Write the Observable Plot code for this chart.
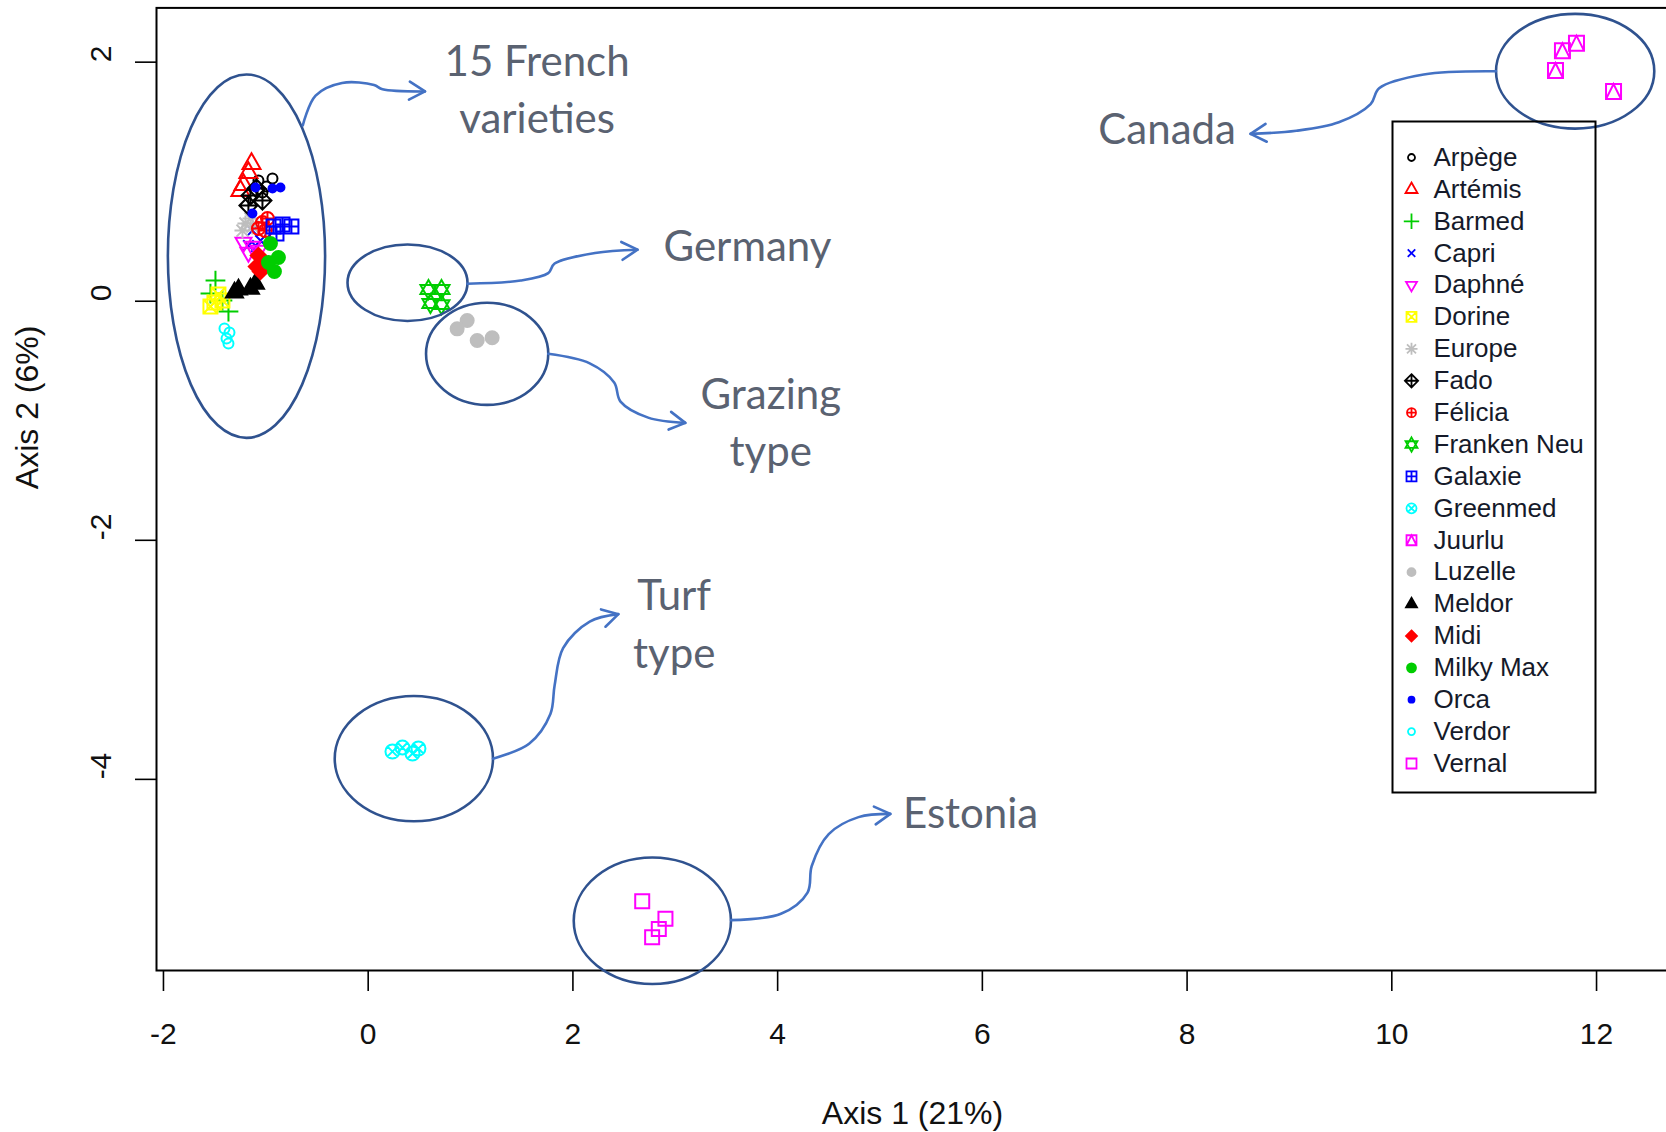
<!DOCTYPE html>
<html><head><meta charset="utf-8">
<script src="https://cdn.jsdelivr.net/npm/d3@7"></script>
<script src="https://cdn.jsdelivr.net/npm/@observablehq/plot@0.6"></script>
<style>
html,body{margin:0;padding:0;background:#fff;overflow:hidden;}
#wrap{position:relative;width:1666px;height:1132px;overflow:hidden;background:#fff;}
#main{position:absolute;left:0;top:0;width:1680px;}
#legend{position:absolute;left:1391px;top:120px;}
#main svg, #legend svg{max-width:none !important;}
</style></head>
<body><div id="wrap"><div id="main"></div><div id="legend"></div></div>
<script>
// ---------- DATA ----------
const varieties = ["Arpège","Artémis","Barmed","Capri","Daphné","Dorine","Europe","Fado","Félicia","Franken Neu","Galaxie","Greenmed","Juurlu","Luzelle","Meldor","Midi","Milky Max","Orca","Verdor","Vernal"];
const colors = ["#000000","#FF0000","#00CD00","#0000FF","#FF00FF","#FFFF00","#BEBEBE","#000000","#FF0000","#00CD00","#0000FF","#00FFFF","#FF00FF","#BEBEBE","#000000","#FF0000","#00CD00","#0000FF","#00FFFF","#FF00FF"];
const pchCodes = [1,2,3,4,6,7,8,9,10,11,12,13,14,16,17,18,19,20,1,0];

// four replicates per variety (Axis 1, Axis 2)
const pointVariety = varieties.flatMap(v => [v, v, v, v]);
const axis1 = [
  -0.935,-0.994,-1.072,-1.033,   // Arpège
  -1.140,-1.170,-1.218,-1.248,   // Artémis
  -1.492,-1.365,-1.541,-1.424,   // Barmed
  -1.131,-1.052,-1.170,-1.091,   // Capri
  -1.218,-1.131,-1.072,-1.170,   // Daphné
  -1.541,-1.463,-1.424,-1.502,   // Dorine
  -1.199,-1.150,-1.228,-1.131,   // Europe
  -1.150,-1.091,-1.033,-1.170,   // Fado
  -1.033,-1.004,-1.072,-0.984,   // Félicia
   0.589, 0.716, 0.608, 0.716,   // Franken Neu
  -0.925,-0.837,-0.750,-0.896,   // Galaxie
   0.237, 0.335, 0.433, 0.491,   // Greenmed
  11.804,11.667,11.599,12.166,   // Juurlu
   0.967, 0.869, 1.065, 1.211,   // Luzelle
  -1.306,-1.101,-1.150,-1.267,   // Meldor
  -1.072,-1.033,-1.052,-1.091,   // Midi
  -0.955,-0.877,-0.916,-0.974,   // Milky Max
  -1.101,-0.935,-0.857,-1.131,   // Orca
  -1.404,-1.355,-1.384,-1.365,   // Verdor
   2.677, 2.904, 2.839, 2.774    // Vernal
];
const axis2 = [
   1.027, 0.960, 1.010, 0.909,
   1.152, 1.077, 0.976, 0.926,
   0.173,-0.086, 0.064, 0.006,
   0.591, 0.508, 0.466, 0.457,
   0.491, 0.458, 0.424, 0.407,
  -0.044, 0.056, 0.006,-0.011,
   0.650, 0.692, 0.591, 0.625,
   0.884, 0.943, 0.842, 0.801,
   0.658, 0.591, 0.608, 0.692,
   0.098, 0.098,-0.019,-0.028,
   0.625, 0.642, 0.625, 0.566,
  -3.767,-3.734,-3.784,-3.742,
   2.159, 2.095, 1.930, 1.754,
  -0.161,-0.231,-0.329,-0.306,
   0.073, 0.148, 0.106, 0.098,
   0.382, 0.324, 0.249, 0.290,
   0.483, 0.366, 0.249, 0.324,
   0.951, 0.943, 0.951, 0.734,
  -0.229,-0.262,-0.312,-0.354,
  -5.020,-5.167,-5.251,-5.321
];

const xTicks = [-2, 0, 2, 4, 6, 8, 10, 12];
const yTicks = [-4, -2, 0, 2];
const xTitle = "Axis 1 (21%)";
const yTitle = "Axis 2 (6%)";

// annotation callouts (data units)
const groupLabels = ["15 French\nvarieties", "Germany", "Grazing\ntype", "Turf\ntype", "Estonia", "Canada"];
const labelAxis1 = [1.650, 3.705, 3.933, 2.989, 5.885, 7.805];
const labelAxis2 = [1.760, 0.453, -1.022, -2.711, -4.293, 1.431];
const ellipseAxis1 = [-1.184, 0.389, 1.167, 0.451, 2.781, 11.796];
const ellipseAxis2 = [0.373, 0.151, -0.444, -3.831, -5.187, 1.920];
const ellipseHalfW = [0.768, 0.586, 0.597, 0.773, 0.768, 0.773];
const ellipseHalfH = [1.520, 0.320, 0.427, 0.524, 0.529, 0.480];
const arrowPaths = [
  [[-0.634,1.467],[-0.509,1.716],[-0.250,1.822],[0.062,1.805],[0.145,1.769],[0.560,1.751]],
  [[0.975,0.142],[1.494,0.169],[1.764,0.231],[1.826,0.311],[2.221,0.400],[2.636,0.427]],
  [[1.764,-0.444],[2.169,-0.524],[2.408,-0.684],[2.470,-0.844],[2.740,-0.978],[3.103,-1.022]],
  [[1.224,-3.831],[1.577,-3.706],[1.785,-3.457],[1.826,-3.218],[1.909,-2.906],[2.169,-2.684],[2.449,-2.622]],
  [[3.549,-5.182],[4.037,-5.129],[4.297,-4.951],[4.338,-4.729],[4.504,-4.462],[4.795,-4.320],[5.106,-4.293]],
  [[11.023,1.920],[10.317,1.893],[9.881,1.778],[9.798,1.645],[9.487,1.493],[9.072,1.422],[8.625,1.396]]
];

// ---------- SYMBOLS (R pch) ----------
function mk(fn){ return {draw(c, size){ const r = Math.sqrt(size/Math.PI); fn(c, r); }}; }
const circ = (c,r)=>{ c.moveTo(r,0); c.arc(0,0,r,0,2*Math.PI); c.closePath(); };
const triUp = (c,r)=>{ c.moveTo(0,-r*1.15); c.lineTo(r,r*0.6); c.lineTo(-r,r*0.6); c.closePath(); };
const triDn = (c,r)=>{ c.moveTo(0,r*1.15); c.lineTo(r,-r*0.6); c.lineTo(-r,-r*0.6); c.closePath(); };
const plus = (c,r)=>{ c.moveTo(-r,0); c.lineTo(r,0); c.moveTo(0,-r); c.lineTo(0,r); };
const cross = (c,r)=>{ const a=r*0.75; c.moveTo(-a,-a); c.lineTo(a,a); c.moveTo(-a,a); c.lineTo(a,-a); };
const sq = (c,r)=>{ c.moveTo(-r,-r); c.lineTo(r,-r); c.lineTo(r,r); c.lineTo(-r,r); c.closePath(); };
const diam = (c,r)=>{ c.moveTo(0,-r); c.lineTo(r,0); c.lineTo(0,r); c.lineTo(-r,0); c.closePath(); };
const SYM = {
  0: mk(sq),
  1: mk(circ),
  2: mk(triUp),
  3: mk((c,r)=>plus(c,r*1.1)),
  4: mk(cross),
  6: mk(triDn),
  7: mk((c,r)=>{ sq(c,r); c.moveTo(-r,-r); c.lineTo(r,r); c.moveTo(-r,r); c.lineTo(r,-r); }),
  8: mk((c,r)=>{ plus(c,r); cross(c,r); }),
  9: mk((c,r)=>{ diam(c,r*1.2); plus(c,r*1.2); }),
  10: mk((c,r)=>{ circ(c,r); c.moveTo(-r,0); plus(c,r); }),
  11: mk((c,r)=>{ c.moveTo(0,-r*1.2); c.lineTo(r,r*0.55); c.lineTo(-r,r*0.55); c.closePath();
                  c.moveTo(0,r*1.2); c.lineTo(r,-r*0.55); c.lineTo(-r,-r*0.55); c.closePath(); }),
  12: mk((c,r)=>{ sq(c,r); plus(c,r); }),
  13: mk((c,r)=>{ circ(c,r); const a=r*0.7; c.moveTo(-a,-a); c.lineTo(a,a); c.moveTo(-a,a); c.lineTo(a,-a); }),
  14: mk((c,r)=>{ sq(c,r); c.moveTo(-r,r); c.lineTo(0,-r); c.lineTo(r,r); }),
  16: mk(circ), 17: mk(triUp), 18: mk((c,r)=>diam(c,r*1.1)), 19: mk(circ), 20: mk(circ)
};
const FILLED = new Set([16,17,18,19,20]);
const R_PLOT = {0:7,1:5,2:9,3:9,4:7,6:8,7:7,8:8,9:7.5,10:6.5,11:8,12:7,13:7,14:7.5,16:6.5,17:8.5,18:7,19:6.5,20:4};
const R_LEG  = {0:5,1:3.5,2:6,3:7,4:5,6:5.5,7:5,8:6,9:5.5,10:4.5,11:6,12:5,13:5,14:5,16:4,17:5.5,18:5,19:4.5,20:3};

// ---------- MAIN PLOT ----------
const points = pointVariety.map((v,i)=>({variety:v, axis1:axis1[i], axis2:axis2[i]}));
const labels = groupLabels.map((t,i)=>({t, x:labelAxis1[i], y:labelAxis2[i]}));
const tickFont = "Liberation Sans, Arial, Helvetica, sans-serif";

const dotMarks = varieties.map((v,i)=>{
  const p = pchCodes[i];
  return Plot.dot(points.filter(d=>d.variety===v), {
    x:"axis1", y:"axis2", symbol: SYM[p], r: R_PLOT[p],
    fill: FILLED.has(p) ? colors[i] : "none", stroke: colors[i], strokeWidth: 2
  });
});

const plot = Plot.plot({
  width: 1680, height: 1132,
  marginLeft: 156, marginRight: 12, marginTop: 7.4, marginBottom: 162,
  x: {domain: [-2.068, 12.703]},
  y: {domain: [-5.599, 2.454]},
  style: {background: "white", color: "#000", fontFamily: tickFont, overflow: "visible", maxWidth: "none"},
  marks: [
    Plot.axisX(xTicks, {tickSize: 21, tickFormat: () => "", label: null, strokeWidth: 1.6}),
    Plot.axisY(yTicks, {tickSize: 21, tickFormat: () => "", label: null, strokeWidth: 1.6}),
    Plot.text(xTicks, {x: d=>d, text: d=>String(d), frameAnchor: "bottom", dy: 73, fontSize: 30, fill: "#111", fontFamily: tickFont}),
    Plot.text(yTicks, {y: d=>d, text: d=>String(d), frameAnchor: "left", dx: -55, rotate: -90, fontSize: 30, fill: "#111", fontFamily: tickFont}),
    Plot.text([xTitle], {text: d=>d, frameAnchor: "bottom", dy: 153, fontSize: 32, fill: "#111", fontFamily: tickFont}),
    Plot.text([yTitle], {text: d=>d, frameAnchor: "left", dx: -129, rotate: -90, fontSize: 32, fill: "#111", fontFamily: tickFont}),
    ...dotMarks,
    Plot.frame({stroke: "#000", strokeWidth: 2}),
    Plot.text(labels, {x:"x", y:"y", text:"t", dy: -4.5, fontSize: 42, fontFamily: "Lato, Carlito, Calibri, sans-serif", fill: "#5a6271", lineHeight: 1.367})
  ]
});
plot.style.maxWidth = "none";

// callout ellipses & arrows projected through the plot's scales
const sx = plot.scale("x"), sy = plot.scale("y");
const X = v => sx.apply(v), Y = v => sy.apply(v);
const g = d3.select(plot).append("g");
ellipseAxis1.forEach((cx,i)=>{
  const cy = ellipseAxis2[i];
  g.append("ellipse")
    .attr("cx", X(cx)).attr("cy", Y(cy))
    .attr("rx", X(cx + ellipseHalfW[i]) - X(cx))
    .attr("ry", Y(cy - ellipseHalfH[i]) - Y(cy))
    .attr("fill","none").attr("stroke","#2F528F").attr("stroke-width",2.6);
});
const lineGen = d3.line().curve(d3.curveCatmullRom.alpha(0.5));
arrowPaths.forEach(path=>{
  const pts = path.map(([a,b])=>[X(a),Y(b)]);
  g.append("path").attr("d", lineGen(pts)).attr("fill","none")
    .attr("stroke","#4472C4").attr("stroke-width",2.6).attr("stroke-linecap","round");
  const [x1,y1] = pts[pts.length-2], [x2,y2] = pts[pts.length-1];
  const ang = Math.atan2(y2-y1, x2-x1), L = 18, spread = 0.52;
  const h = [ang + Math.PI - spread, ang + Math.PI + spread].map(a=>[x2 + L*Math.cos(a), y2 + L*Math.sin(a)]);
  g.append("path").attr("d", `M${h[0][0]},${h[0][1]}L${x2},${y2}L${h[1][0]},${h[1][1]}`)
    .attr("fill","none").attr("stroke","#4472C4").attr("stroke-width",2.6)
    .attr("stroke-linecap","round").attr("stroke-linejoin","round");
});
document.getElementById("main").appendChild(plot);

// ---------- LEGEND ----------
const legendRows = varieties.map((v,i)=>({name:v, row:i}));
const legMarks = legendRows.map((d,i)=>{
  const p = pchCodes[i];
  return Plot.dot([d], {y: "row", frameAnchor: "left", dx: 20, symbol: SYM[p], r: R_LEG[p],
    fill: FILLED.has(p) ? colors[i] : "none", stroke: colors[i], strokeWidth: 1.8});
});
const legend = Plot.plot({
  width: 205, height: 673, margin: 0,
  y: {domain: [0, varieties.length - 1], range: [37, 643], axis: null},
  style: {background: "transparent", overflow: "visible", maxWidth: "none"},
  marks: [
    Plot.frame({stroke: "#000", strokeWidth: 2, inset: 1}),
    ...legMarks,
    Plot.text(legendRows, {y: "row", text: "name", frameAnchor: "left", dx: 42, textAnchor: "start", fontSize: 26, fill: "#151a2a", fontFamily: tickFont})
  ]
});
document.getElementById("legend").appendChild(legend);
</script>
</body></html>
